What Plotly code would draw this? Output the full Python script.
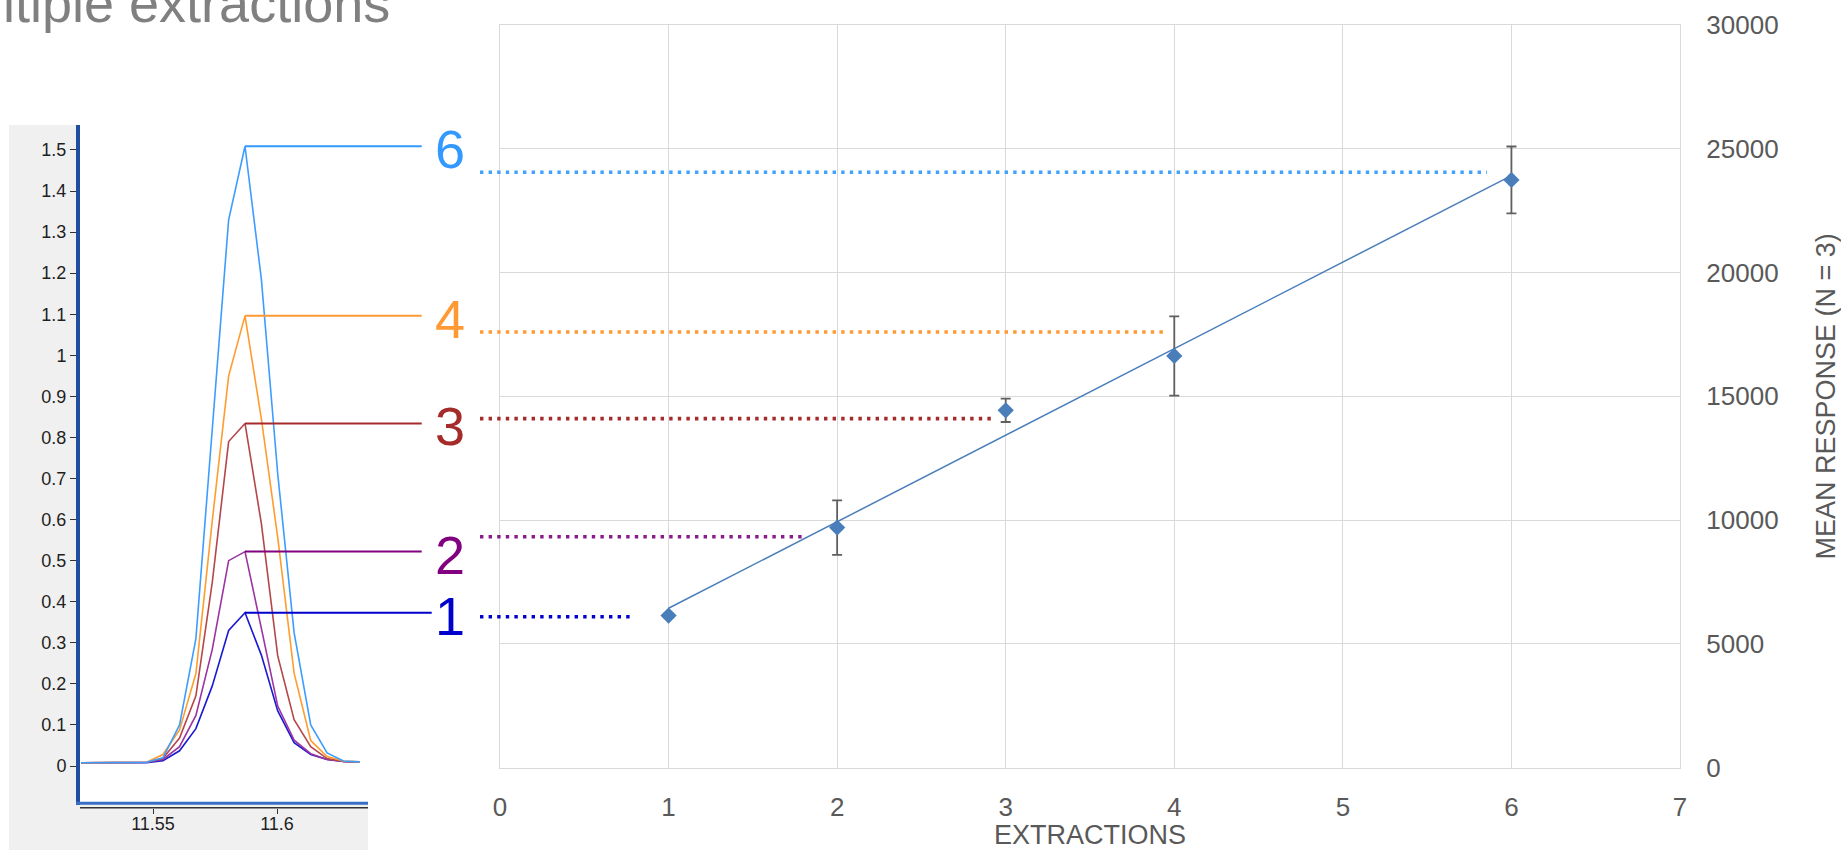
import numpy as np
import plotly.graph_objects as go

W, H = 1841, 850
FONT = "Liberation Sans, Arial, sans-serif"

# ---- response vs number of extractions (mean of 3, +/- SD) ----
extractions = [1, 2, 3, 4, 6]
mean_response = [6150, 9700, 14435, 16630, 23740]
response_sd = [80, 1100, 470, 1600, 1350]

x_ticks = [0, 1, 2, 3, 4, 5, 6, 7]
y_ticks = [0, 5000, 10000, 15000, 20000, 25000, 30000]

# ---- overlaid chromatograms (retention time, min / intensity) ----
retention_time = [11.5210, 11.5276, 11.5342, 11.5408, 11.5474, 11.5540, 11.5607,
                  11.5673, 11.5739, 11.5805, 11.5871, 11.5937, 11.6003, 11.6069,
                  11.6136, 11.6202, 11.6268, 11.6334]
intensity_1 = [0.008, 0.008, 0.008, 0.008, 0.008, 0.013, 0.037, 0.091, 0.195, 0.330,
               0.373, 0.270, 0.134, 0.057, 0.028, 0.016, 0.011, 0.010]
intensity_2 = [0.008, 0.008, 0.008, 0.008, 0.009, 0.016, 0.047, 0.123, 0.284, 0.500,
               0.522, 0.335, 0.146, 0.063, 0.030, 0.016, 0.011, 0.010]
intensity_3 = [0.008, 0.008, 0.008, 0.008, 0.009, 0.019, 0.068, 0.171, 0.447, 0.790,
               0.834, 0.590, 0.268, 0.113, 0.047, 0.018, 0.011, 0.010]
intensity_4 = [0.008, 0.008, 0.008, 0.008, 0.009, 0.028, 0.088, 0.225, 0.597, 0.950,
               1.096, 0.845, 0.556, 0.226, 0.062, 0.023, 0.012, 0.010]
intensity_6 = [0.008, 0.008, 0.008, 0.008, 0.009, 0.020, 0.100, 0.310, 0.818, 1.330,
               1.509, 1.185, 0.711, 0.325, 0.100, 0.032, 0.012, 0.010]

peak_labels = ["1", "2", "3", "4", "6"]
peak_series = [intensity_1, intensity_2, intensity_3, intensity_4, intensity_6]
chrom_yticks = [0, 0.1, 0.2, 0.3, 0.4, 0.5, 0.6, 0.7, 0.8, 0.9, 1, 1.1, 1.2, 1.3, 1.4, 1.5]
chrom_xticks = [11.55, 11.6]

# response levels marked by the dotted guides, and where each guide stops (extractions)
guide_levels = [6100, 9330, 14100, 17600, 24050]
guide_ends = [0.79, 1.79, 2.93, 3.935, 5.855]

# ---- styling ----
trace_colors = ["#1a1ad2", "#9a34a2", "#b5474a", "#ff9c2e", "#3d9dff"]
label_colors = ["#0000cc", "#800080", "#a52a2a", "#ff9933", "#3399ff"]
guide_colors = ["#0000cc", "#8b1a8b", "#a52a2a", "#ff9a33", "#42a0ff"]
connector_end_px = [431.7, 421.7, 421.7, 421.7, 421.7]

# pixel layout
main_px = dict(left=500, right=1680, top=24.9, bottom=767.8)
chrom_px = dict(left=80, right=440, top=125, bottom=808)
chrom_x_scale = 2480.0     # px per minute
chrom_x_ref = (11.55, 153)  # (time, px)
chrom_y_scale = 410.7      # px per intensity unit
chrom_y_ref = (0.0, 766)    # (intensity, px)


def px_to_time(px):
    return chrom_x_ref[0] + (px - chrom_x_ref[1]) / chrom_x_scale


def px_to_int(py):
    return chrom_y_ref[0] + (chrom_y_ref[1] - py) / chrom_y_scale


chrom_xrange = [px_to_time(chrom_px["left"]), px_to_time(chrom_px["right"])]
chrom_yrange = [px_to_int(chrom_px["bottom"]), px_to_int(chrom_px["top"])]

fig = go.Figure()

# linear trend through the means
coef = np.polyfit(extractions, mean_response, 1)
trend_x = [min(extractions), max(extractions)]
trend_y = np.polyval(coef, trend_x)
fig.add_trace(go.Scatter(x=trend_x, y=trend_y, mode="lines",
                         line=dict(color="#4a7ebb", width=1.5),
                         hoverinfo="skip", showlegend=False))
fig.add_trace(go.Scatter(x=extractions, y=mean_response, mode="markers",
                         marker=dict(symbol="diamond", size=12.5, color="#4a7ebb"),
                         error_y=dict(type="data", array=response_sd, color="#5f5f5f",
                                      thickness=1.8, width=5),
                         showlegend=False))

# chromatograms
for lab, ys, col in zip(peak_labels, peak_series, trace_colors):
    fig.add_trace(go.Scatter(x=retention_time, y=ys, mode="lines",
                             line=dict(color=col, width=1.6),
                             xaxis="x2", yaxis="y2", showlegend=False, name=lab))

# horizontal connectors from each apex towards its label
for ys, col, end_px in zip(peak_series, label_colors, connector_end_px):
    i = int(np.argmax(ys))
    fig.add_trace(go.Scatter(x=[retention_time[i], px_to_time(end_px)], y=[ys[i], ys[i]],
                             mode="lines", line=dict(color=col, width=2),
                             xaxis="x2", yaxis="y2", showlegend=False, hoverinfo="skip"))

shapes = []
# grey panel behind the chromatogram and its white plotting area
shapes.append(dict(type="rect", xref="paper", yref="paper", x0=9 / W, x1=368 / W,
                   y0=0, y1=1 - 125 / H, fillcolor="#f0f0f0", line=dict(width=0),
                   layer="below"))
shapes.append(dict(type="rect", xref="paper", yref="paper", x0=80 / W, x1=368 / W,
                   y0=1 - 803 / H, y1=1 - 125 / H, fillcolor="white", line=dict(width=0),
                   layer="below"))
# chromatogram frame lines
shapes.append(dict(type="line", xref="paper", yref="paper", x0=78 / W, x1=78 / W,
                   y0=1 - 805 / H, y1=1 - 125 / H, line=dict(color="#1f4e9e", width=4)))
shapes.append(dict(type="line", xref="paper", yref="paper", x0=76 / W, x1=368 / W,
                   y0=1 - 803.3 / H, y1=1 - 803.3 / H, line=dict(color="#3a6fc6", width=3)))
shapes.append(dict(type="line", xref="paper", yref="paper", x0=80 / W, x1=368 / W,
                   y0=1 - 807.8 / H, y1=1 - 807.8 / H, line=dict(color="#333333", width=1.5)))

# dotted guides across the response chart
main_w = main_px["right"] - main_px["left"]
for lvl, end, col in zip(guide_levels, guide_ends, guide_colors):
    shapes.append(dict(type="line", xref="x domain", yref="y",
                       x0=(480 - main_px["left"]) / main_w,
                       x1=(end - x_ticks[0]) / (x_ticks[-1] - x_ticks[0]),
                       y0=lvl, y1=lvl,
                       line=dict(color=col, width=3.6, dash="3.4px,5.2px")))

annotations = [dict(text="Multiple extractions", xref="paper", yref="paper",
                    x=-74 / W, xanchor="left", y=1 - 3 / H, yanchor="middle",
                    showarrow=False, font=dict(family=FONT, size=54, color="#808080"))]
for lab, ys, col in zip(peak_labels, peak_series, label_colors):
    annotations.append(dict(text=lab, xref="paper", yref="y2", x=450 / W, xanchor="center",
                            y=max(ys), yanchor="middle", yshift=-3, showarrow=False,
                            font=dict(family=FONT, size=54, color=col)))

tick_font = dict(family=FONT, size=26, color="#595959")
title_font = dict(family=FONT, size=27, color="#595959")
fig.update_layout(
    width=W, height=H,
    margin=dict(l=0, r=0, t=0, b=0),
    paper_bgcolor="white", plot_bgcolor="rgba(0,0,0,0)",
    font=dict(family=FONT),
    showlegend=False,
    shapes=shapes,
    annotations=annotations,
    xaxis=dict(domain=[main_px["left"] / W, main_px["right"] / W], range=[0, 7],
               tickvals=x_ticks, ticks="", showgrid=True, gridcolor="#d9d9d9",
               gridwidth=1.2, zeroline=False, showline=True, mirror=True,
               linecolor="#d9d9d9", linewidth=1.2, tickfont=tick_font,
               ticklabelstandoff=16,
               title=dict(text="EXTRACTIONS", font=title_font, standoff=5),
               automargin=False, anchor="y"),
    yaxis=dict(domain=[1 - main_px["bottom"] / H, 1 - main_px["top"] / H],
               range=[0, 30000], tickvals=y_ticks, tickformat="d", side="right",
               ticks="", showgrid=True, gridcolor="#d9d9d9", gridwidth=1.2,
               zeroline=False, showline=True, mirror=True, linecolor="#d9d9d9",
               linewidth=1.2, tickfont=tick_font, ticklabelstandoff=20,
               title=dict(text="MEAN RESPONSE (N = 3)", font=title_font, standoff=46),
               automargin=False, anchor="x"),
    xaxis2=dict(domain=[chrom_px["left"] / W, chrom_px["right"] / W], range=chrom_xrange,
                tickvals=chrom_xticks, ticktext=["11.55", "11.6"], ticks="outside",
                ticklen=5, tickcolor="#333333", tickwidth=1, showgrid=False,
                zeroline=False, showline=False, ticklabelstandoff=-6,
                tickfont=dict(family=FONT, size=18, color="#1f1f1f"),
                automargin=False, anchor="y2"),
    yaxis2=dict(domain=[1 - chrom_px["bottom"] / H, 1 - chrom_px["top"] / H],
                range=chrom_yrange, tickvals=chrom_yticks, ticks="outside",
                ticklen=9, tickcolor="#333333", tickwidth=1, showgrid=False,
                zeroline=False, showline=False,
                tickfont=dict(family=FONT, size=18, color="#1f1f1f"),
                automargin=False, anchor="x2"),
)

fig.write_html("out.html")
